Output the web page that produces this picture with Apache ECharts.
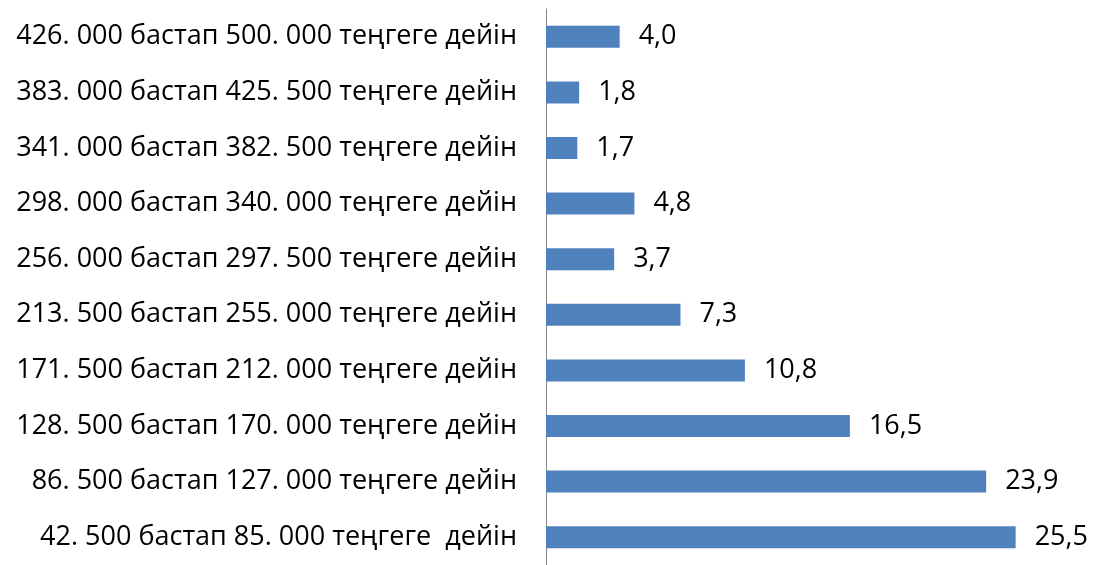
<!DOCTYPE html>
<html>
<head>
<meta charset="utf-8">
<script src="https://cdn.jsdelivr.net/npm/echarts@6/dist/echarts.min.js"></script>
<style>
  html, body { margin: 0; padding: 0; background: #fff; }
  #box { width: 1093px; height: 565px; }
</style>
</head>
<body>
<div id="box"></div>
<script>
// категориялар (төменнен жоғары қарай)
let categories = [
    '42. 500 бастап 85. 000 теңгеге  дейін',
    '86. 500 бастап 127. 000 теңгеге дейін',
    '128. 500 бастап 170. 000 теңгеге дейін',
    '171. 500 бастап 212. 000 теңгеге дейін',
    '213. 500 бастап 255. 000 теңгеге дейін',
    '256. 000 бастап 297. 500 теңгеге дейін',
    '298. 000 бастап 340. 000 теңгеге дейін',
    '341. 000 бастап 382. 500 теңгеге дейін',
    '383. 000 бастап 425. 500 теңгеге дейін',
    '426. 000 бастап 500. 000 теңгеге дейін'
];

// пайыздар
let values = [25.5, 23.9, 16.5, 10.8, 7.3, 3.7, 4.8, 1.7, 1.8, 4.0];

let chart = echarts.init(document.getElementById('box'));

let option = {
    backgroundColor: '#fff',
    animation: false,
    grid: {
        left: 546,
        right: 0,
        top: 9,
        bottom: -2,
        containLabel: false
    },
    xAxis: {
        type: 'value',
        min: 0,
        max: 29.7,
        show: false
    },
    yAxis: {
        type: 'category',
        data: categories,
        axisLine: {
            show: true,
            lineStyle: {color: '#868686', width: 1}
        },
        axisTick: {show: false},
        axisLabel: {
            color: '#000',
            fontFamily: 'Open Sans',
            fontSize: 27,
            margin: 29
        }
    },
    series: [{
        type: 'bar',
        data: values,
        barWidth: 22,
        itemStyle: {color: '#4f81bd'},
        label: {
            show: true,
            position: 'right',
            distance: 19,
            color: '#000',
            fontFamily: 'Open Sans',
            fontSize: 27,
            formatter: function (p) {
                return p.value.toFixed(1).replace('.', ',');
            }
        }
    }]
};

chart.setOption(option);
</script>
</body>
</html>
